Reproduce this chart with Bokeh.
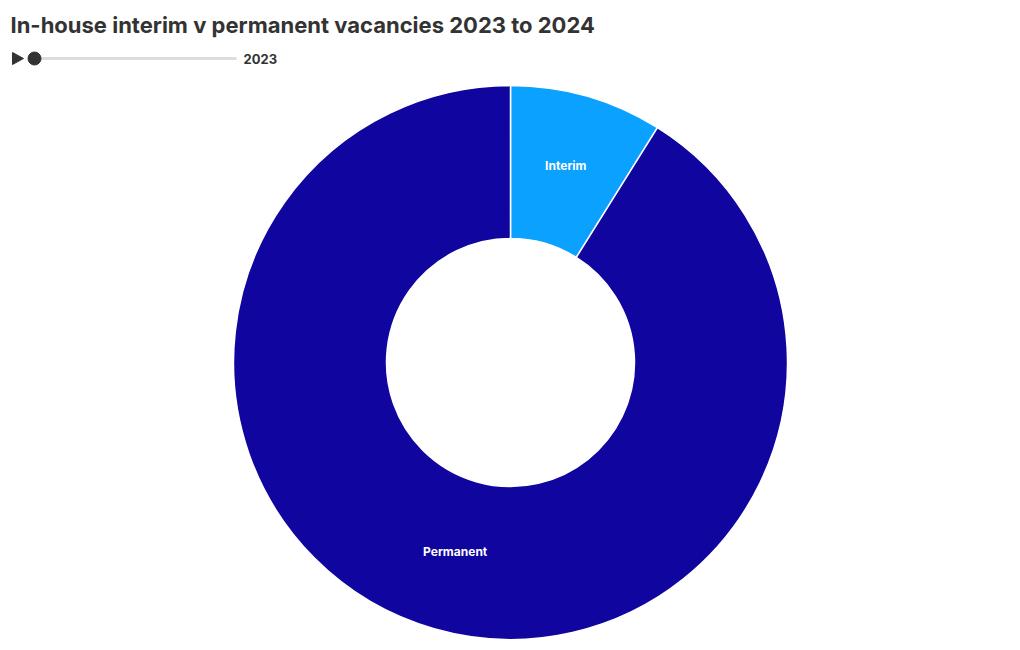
import math
from bokeh.plotting import figure
from bokeh.models import Range1d, ColumnDataSource
from bokeh.core.properties import value
from bokeh.embed import file_html
from bokeh.resources import INLINE

# ---- data ----
categories = ["Interim", "Permanent"]
values = [8.9, 91.1]
colors = ["#0BA1FF", "#10069F"]
title_text = "In-house interim v permanent vacancies 2023 to 2024"
year_label = "2023"

W, H = 1020, 650
cx, cy = 510, H - 362
r_out, r_in = 277, 124

total = sum(values)
starts, ends, lx, ly = [], [], [], []
acc = 0.0
for v in values:
    a0 = math.pi / 2 - 2 * math.pi * acc / total
    a1 = math.pi / 2 - 2 * math.pi * (acc + v) / total
    starts.append(a0)
    ends.append(a1)
    mid = (a0 + a1) / 2
    rm = (r_in + r_out) / 2
    lx.append(cx + rm * math.cos(mid))
    ly.append(cy + rm * math.sin(mid) + 4)
    acc += v

src = ColumnDataSource(dict(cat=categories, val=values, color=colors,
                            start=starts, end=ends, lx=lx, ly=ly))

p = figure(width=W, height=H, output_backend="svg", toolbar_location=None,
           x_range=Range1d(0, W), y_range=Range1d(0, H), min_border=0)
p.axis.visible = False
p.grid.visible = False
p.outline_line_color = None
p.background_fill_color = "white"
p.border_fill_color = "white"

p.annular_wedge(x=cx, y=cy, inner_radius=r_in, outer_radius=r_out,
                start_angle="start", end_angle="end", direction="clock",
                fill_color="color", line_color="white", line_width=1.5,
                source=src)

p.text(x="lx", y="ly", text="cat", source=src, text_color="white",
       text_font=value("Inter"), text_font_style="bold", text_font_size="12px",
       text_align="center", text_baseline="middle")

# title
p.text(x=[10], y=[H - 24], text=[title_text], text_color="#333333",
       text_font=value("Inter"), text_font_style="bold", text_font_size="22px",
       text_align="left", text_baseline="middle")

# slider decoration
p.patch(x=[12, 23, 12], y=[H - 52, H - 58, H - 64], fill_color="#333333",
        line_color="#333333")
p.segment(x0=[34], y0=[H - 58], x1=[236], y1=[H - 58], line_color="#dddddd",
          line_width=3)
p.scatter(x=[34], y=[H - 58], size=13, marker="circle", fill_color="#333333",
          line_color="#333333")
p.text(x=[243], y=[H - 58], text=[year_label], text_color="#333333",
       text_font=value("Inter"), text_font_style="bold", text_font_size="13px",
       text_align="left", text_baseline="middle")

open("out.html", "w").write(file_html(p, INLINE))
